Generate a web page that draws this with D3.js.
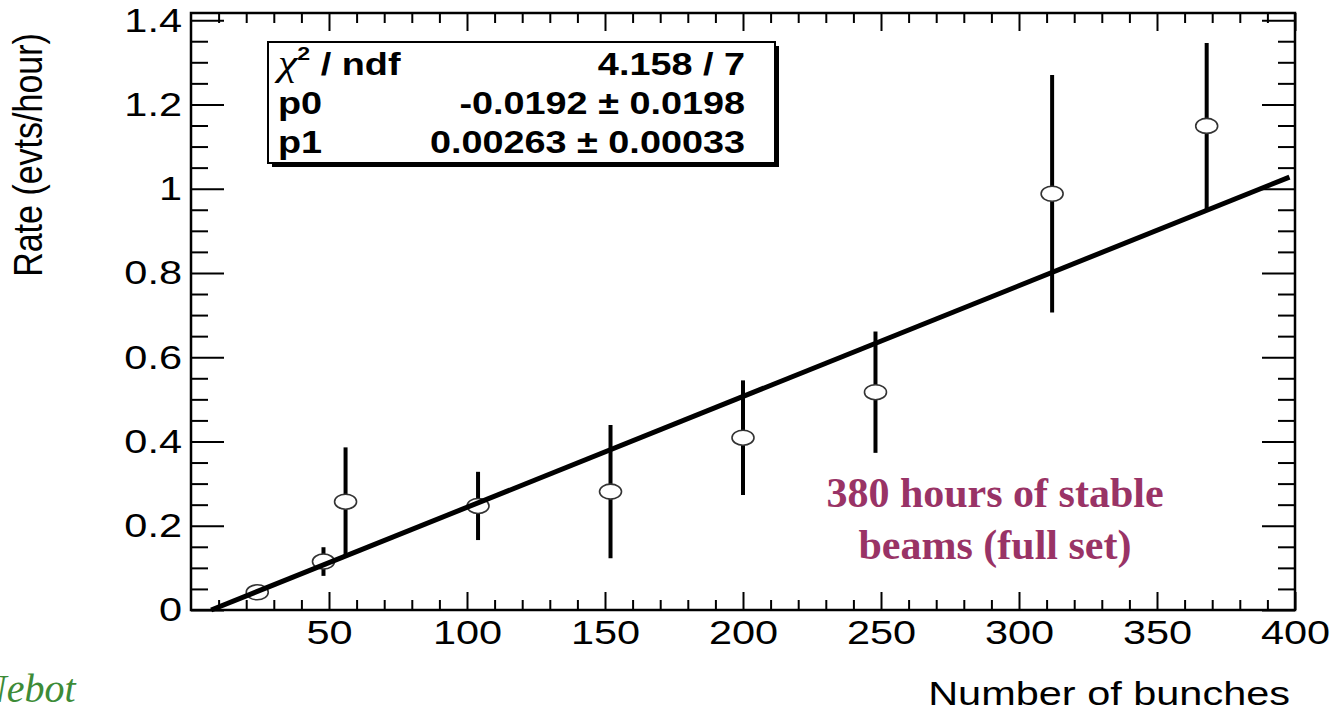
<!DOCTYPE html>
<html>
<head>
<meta charset="utf-8">
<script src="https://cdn.jsdelivr.net/npm/d3@7"></script>
<style>
  html, body { margin: 0; padding: 0; background: #ffffff; }
  svg { display: block; }
</style>
</head>
<body>
<script>
// ---------------- data ----------------
const bunches  = [24, 48, 56, 104, 152, 200, 248, 312, 368];
const rate     = [0.042, 0.115, 0.257, 0.247, 0.281, 0.409, 0.517, 0.988, 1.149];
const rateErr  = [0.015, 0.034, 0.129, 0.081, 0.158, 0.136, 0.144, 0.282, 0.197];
const fitP0 = -0.0192, fitP1 = 0.00263, fitXEnd = 398;
const xMajorTicks = [50, 100, 150, 200, 250, 300, 350, 400];
const xTickLabels = ["50", "100", "150", "200", "250", "300", "350", "400"];
const yMajorTicks = [0, 0.2, 0.4, 0.6, 0.8, 1.0, 1.2, 1.4];
const yTickLabels = ["0", "0.2", "0.4", "0.6", "0.8", "1", "1.2", "1.4"];
const statsNames  = ["χ", "p0", "p1"];
const statsValues = ["4.158 / 7", "-0.0192 ± 0.0198", "0.00263 ± 0.00033"];
const annotationLines = ["380 hours of stable", "beams (full set)"];
const xTitle = "Number of bunches";
const yTitle = "Rate (evts/hour)";
const creditText = "Nebot";

// ---------------- layout ----------------
const W = 1332, H = 712;
const L = 191, R = 1295, T = 13, B = 610;
const SX = 1.22; // horizontal stretch of the original picture's text

const x = d3.scaleLinear().domain([0, 400]).range([L, R]);
const y = d3.scaleLinear().domain([0, 1.417]).range([B, T]);

const svg = d3.select("body").append("svg").attr("width", W).attr("height", H);
svg.append("rect").attr("width", W).attr("height", H).attr("fill", "#fff");

const sans = "'Liberation Sans', Arial, Helvetica, sans-serif";
const serif = "'Liberation Serif', 'Times New Roman', Times, serif";

const xMinor = d3.range(10, 400, 10).filter(v => v % 50 !== 0);
const yMinor = d3.range(0.05, 1.417, 0.05).filter(v => Math.abs(v / 0.2 - Math.round(v / 0.2)) > 1e-6);

function styleAxis(g) {
  g.select(".domain").remove();
  g.selectAll(".tick line").attr("stroke", "#000").attr("stroke-width", 2);
}

// bottom axis major with labels
const gxB = svg.append("g").attr("transform", `translate(0,${B})`)
  .call(d3.axisBottom(x).tickValues(xMajorTicks).tickSizeInner(-18).tickSizeOuter(0)
    .tickPadding(10).tickFormat((d, i) => xTickLabels[i]));
styleAxis(gxB);
gxB.selectAll(".tick text").attr("font-family", sans).attr("font-size", 34).attr("fill", "#000")
  .attr("transform", `scale(${SX},1)`);
svg.append("g").attr("transform", `translate(0,${B})`)
  .call(d3.axisBottom(x).tickValues(xMinor).tickSizeInner(-10).tickSizeOuter(0).tickFormat(""))
  .call(styleAxis);
// top axis
svg.append("g").attr("transform", `translate(0,${T})`)
  .call(d3.axisTop(x).tickValues(xMajorTicks).tickSizeInner(-18).tickSizeOuter(0).tickFormat(""))
  .call(styleAxis);
svg.append("g").attr("transform", `translate(0,${T})`)
  .call(d3.axisTop(x).tickValues(xMinor).tickSizeInner(-10).tickSizeOuter(0).tickFormat(""))
  .call(styleAxis);

// left axis major with labels
const gyL = svg.append("g").attr("transform", `translate(${L},0)`)
  .call(d3.axisLeft(y).tickValues(yMajorTicks).tickSizeInner(-33).tickSizeOuter(0)
    .tickPadding(9 / SX).tickFormat((d, i) => yTickLabels[i]));
styleAxis(gyL);
gyL.selectAll(".tick text").attr("font-family", sans).attr("font-size", 34).attr("fill", "#000")
  .attr("transform", `scale(${SX},1)`);
svg.append("g").attr("transform", `translate(${L},0)`)
  .call(d3.axisLeft(y).tickValues(yMinor).tickSizeInner(-17).tickSizeOuter(0).tickFormat(""))
  .call(styleAxis);
// right axis
svg.append("g").attr("transform", `translate(${R},0)`)
  .call(d3.axisRight(y).tickValues(yMajorTicks).tickSizeInner(-33).tickSizeOuter(0).tickFormat(""))
  .call(styleAxis);
svg.append("g").attr("transform", `translate(${R},0)`)
  .call(d3.axisRight(y).tickValues(yMinor).tickSizeInner(-17).tickSizeOuter(0).tickFormat(""))
  .call(styleAxis);

// frame
svg.append("rect").attr("x", L).attr("y", T).attr("width", R - L).attr("height", B - T)
  .attr("fill", "none").attr("stroke", "#000").attr("stroke-width", 2.5);

// ---------------- data marks ----------------
const pts = bunches.map((b, i) => ({ b, v: rate[i], e: rateErr[i] }));
const plot = svg.append("g");
plot.selectAll("line.err").data(pts).join("line").attr("class", "err")
  .attr("x1", d => x(d.b)).attr("x2", d => x(d.b))
  .attr("y1", d => y(d.v + d.e)).attr("y2", d => y(Math.max(0, d.v - d.e)))
  .attr("stroke", "#000").attr("stroke-width", 4);
plot.selectAll("ellipse.mk").data(pts).join("ellipse").attr("class", "mk")
  .attr("cx", d => x(d.b)).attr("cy", d => y(d.v))
  .attr("rx", 11).attr("ry", 7.5)
  .attr("fill", "#fff").attr("stroke", "#333").attr("stroke-width", 1.6);

// fit line
const fitX0 = -fitP0 / fitP1;
const fitPts = [fitX0, fitXEnd].map(b => [b, fitP0 + fitP1 * b]);
plot.append("path").datum(fitPts)
  .attr("d", d3.line().x(d => x(d[0])).y(d => y(d[1])))
  .attr("fill", "none").attr("stroke", "#000").attr("stroke-width", 5);

// ---------------- stats box ----------------
const bx = 268, by = 42, bw = 507, bh = 121;
svg.append("rect").attr("x", bx + 4).attr("y", by + 4).attr("width", bw).attr("height", bh).attr("fill", "#000");
svg.append("rect").attr("x", bx).attr("y", by).attr("width", bw).attr("height", bh)
  .attr("fill", "#fff").attr("stroke", "#000").attr("stroke-width", 2);
const rowBase = [75, 114, 153];
statsNames.forEach((name, i) => {
  const t = svg.append("text").attr("transform", `translate(${bx + 10},${rowBase[i]}) scale(${SX},1)`)
    .attr("font-family", sans).attr("font-weight", "bold").attr("font-size", 31).attr("fill", "#000");
  if (i === 0) {
    t.append("tspan").attr("font-family", serif).attr("font-style", "italic").attr("font-weight", "normal")
      .attr("font-size", 36).text(name);
    t.append("tspan").attr("font-size", 19).attr("dy", -15).text("2");
    t.append("tspan").attr("dy", 15).text(" / ndf");
  } else {
    t.text(name);
  }
  svg.append("text").attr("transform", `translate(${bx + bw - 30},${rowBase[i]}) scale(${SX},1)`)
    .attr("text-anchor", "end")
    .attr("font-family", sans).attr("font-weight", "bold").attr("font-size", 31).attr("fill", "#000")
    .text(statsValues[i]);
});

// ---------------- titles ----------------
svg.append("text").attr("transform", `translate(1290,705) scale(${SX},1)`)
  .attr("text-anchor", "end").attr("font-family", sans).attr("font-size", 34).attr("fill", "#000")
  .text(xTitle);
svg.append("text").attr("transform", `translate(42,155) scale(${SX},1) rotate(-90)`)
  .attr("text-anchor", "middle").attr("font-family", sans).attr("font-size", 34).attr("fill", "#000")
  .text(yTitle);

// annotation
annotationLines.forEach((s, i) => {
  svg.append("text").attr("x", 995).attr("y", 507 + i * 52)
    .attr("text-anchor", "middle").attr("font-family", serif).attr("font-weight", "bold")
    .attr("font-size", 42).attr("fill", "#993366").text(s);
});

// credit (clipped at the left edge, as in the reference)
svg.append("text").attr("x", -20).attr("y", 702)
  .attr("font-family", serif).attr("font-style", "italic").attr("font-size", 40)
  .attr("fill", "#3d8b37").text(creditText);
</script>
</body>
</html>
